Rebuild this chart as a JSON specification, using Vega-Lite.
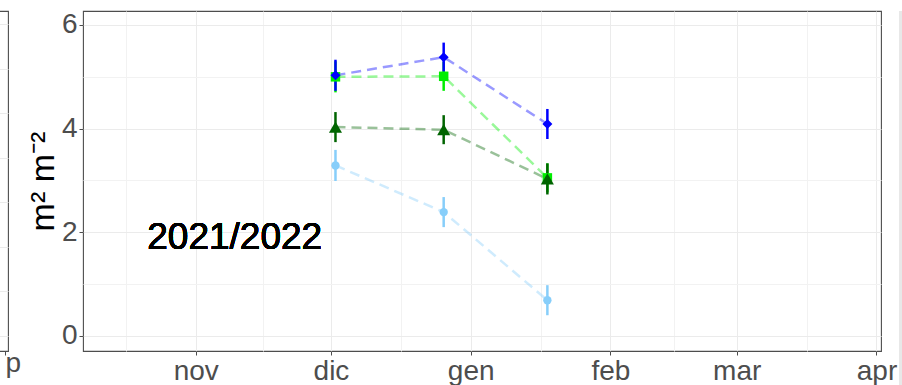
{
  "$schema": "https://vega.github.io/schema/vega-lite/v6.json",
  "background": "white",
  "padding": {"left": -193, "top": 10, "right": 0, "bottom": 0},
  "bounds": "flush",
  "spacing": 75,
  "config": {
    "font": "Liberation Sans",
    "view": {"stroke": "#4D4D4D", "strokeWidth": 1.1},
    "axis": {
      "labelFont": "Liberation Sans",
      "titleFont": "Liberation Sans",
      "labelColor": "#4D4D4D",
      "labelFontSize": 28,
      "tickColor": "#4D4D4D",
      "tickSize": 4,
      "tickWidth": 1,
      "labelPadding": 2,
      "domain": false,
      "gridColor": "#EBEBEB",
      "gridWidth": 1
    }
  },
  "hconcat": [
    {
      "width": 200,
      "height": 340,
      "data": {"values": []},
      "mark": {"type": "point"},
      "encoding": {
        "x": {
          "field": "t",
          "type": "quantitative",
          "scale": {"domain": [0, 200], "nice": false, "zero": false},
          "axis": {"values": [197], "labelExpr": "'p'", "labelAlign": "left", "labelDx": -4, "labelPadding": -6, "grid": false, "title": null}
        },
        "y": {
          "field": "v",
          "type": "quantitative",
          "scale": {"domain": [-0.337, 7.29], "nice": false, "zero": false},
          "axis": {"values": [0, 1, 2, 3, 4, 5, 6, 7], "labels": false, "ticks": false, "title": null, "grid": true}
        }
      }
    },
    {
      "spacing": 18,
      "bounds": "flush",
      "hconcat": [
        {
          "width": 798,
          "height": 340,
          "data": {
            "values": [
              {"serie": "T2", "date": "2021-12-02", "v": 5.00, "lo": 4.70, "hi": 5.30},
              {"serie": "T2", "date": "2021-12-26", "v": 5.01, "lo": 4.73, "hi": 5.29},
              {"serie": "T2", "date": "2022-01-18", "v": 3.05, "lo": 2.77, "hi": 3.33},
              {"serie": "T4", "date": "2021-12-02", "v": 3.29, "lo": 2.99, "hi": 3.59},
              {"serie": "T4", "date": "2021-12-26", "v": 2.39, "lo": 2.10, "hi": 2.68},
              {"serie": "T4", "date": "2022-01-18", "v": 0.69, "lo": 0.40, "hi": 0.98},
              {"serie": "T3", "date": "2021-12-02", "v": 4.03, "lo": 3.74, "hi": 4.32},
              {"serie": "T3", "date": "2021-12-26", "v": 3.98, "lo": 3.70, "hi": 4.26},
              {"serie": "T3", "date": "2022-01-18", "v": 3.03, "lo": 2.73, "hi": 3.33},
              {"serie": "T1", "date": "2021-12-02", "v": 5.03, "lo": 4.73, "hi": 5.33},
              {"serie": "T1", "date": "2021-12-26", "v": 5.38, "lo": 5.10, "hi": 5.66},
              {"serie": "T1", "date": "2022-01-18", "v": 4.09, "lo": 3.80, "hi": 4.38}
            ]
          },
          "resolve": {"axis": {"x": "independent", "y": "independent"}},
          "layer": [
            {
              "data": {"values": []},
              "mark": {"type": "point"},
              "encoding": {
                "x": {
                  "field": "date",
                  "type": "temporal",
                  "scale": {"type": "utc"},
                  "axis": {
                    "orient": "top",
                    "values": [
                      {"year": 2021, "month": 10, "date": 16, "hours": 12, "utc": true},
                      {"year": 2021, "month": 11, "date": 16, "utc": true},
                      {"year": 2021, "month": 12, "date": 16, "hours": 12, "utc": true},
                      {"year": 2022, "month": 1, "date": 16, "hours": 12, "utc": true},
                      {"year": 2022, "month": 2, "date": 15, "utc": true},
                      {"year": 2022, "month": 3, "date": 16, "hours": 12, "utc": true}
                    ],
                    "labels": false, "ticks": false, "title": null,
                    "grid": true, "gridColor": "#F2F2F2"
                  }
                },
                "y": {
                  "field": "v",
                  "type": "quantitative",
                  "axis": {
                    "orient": "right",
                    "values": [1, 3, 5],
                    "labels": false, "ticks": false, "title": null,
                    "grid": true, "gridColor": "#F2F2F2"
                  }
                }
              }
            },
            {
              "encoding": {
                "x": {
                  "field": "date",
                  "type": "temporal",
                  "scale": {
                    "type": "utc",
                    "domain": [
                      {"year": 2021, "month": 10, "date": 7, "utc": true},
                      {"year": 2022, "month": 4, "date": 2, "utc": true}
                    ]
                  },
                  "axis": {
                    "orient": "bottom",
                    "values": [
                      {"year": 2021, "month": 11, "date": 1, "utc": true},
                      {"year": 2021, "month": 12, "date": 1, "utc": true},
                      {"year": 2022, "month": 1, "date": 1, "utc": true},
                      {"year": 2022, "month": 2, "date": 1, "utc": true},
                      {"year": 2022, "month": 3, "date": 1, "utc": true},
                      {"year": 2022, "month": 4, "date": 1, "utc": true}
                    ],
                    "labelExpr": "['gen','feb','mar','apr','mag','giu','lug','ago','set','ott','nov','dic'][utcmonth(datum.value)]",
                    "title": null,
                    "grid": true
                  }
                },
                "y": {
                  "field": "v",
                  "type": "quantitative",
                  "scale": {"domain": [-0.29, 6.27], "nice": false, "zero": false},
                  "axis": {
                    "orient": "left",
                    "values": [0, 2, 4, 6],
                    "title": "m² m⁻²",
                    "titleFontSize": 34,
                    "titleFontWeight": "normal",
                    "titleColor": "black",
                    "titlePadding": 1,
                    "grid": true
                  }
                },
                "color": {
                  "field": "serie",
                  "type": "nominal",
                  "scale": {"domain": ["T1", "T2", "T3", "T4"], "range": ["#0000FF", "#00EE00", "#006400", "#87CEFA"]},
                  "legend": null
                }
              },
              "layer": [
                {
                  "mark": {"type": "line", "strokeDash": [10, 6], "strokeWidth": 2.5, "opacity": 0.4},
                  "encoding": {"detail": {"field": "serie"}}
                },
                {
                  "mark": {"type": "rule", "strokeWidth": 2.5},
                  "encoding": {"y": {"field": "lo", "type": "quantitative"}, "y2": {"field": "hi"}}
                },
                {
                  "mark": {"type": "point", "filled": true, "opacity": 1},
                  "encoding": {
                    "shape": {
                      "field": "serie",
                      "type": "nominal",
                      "scale": {"domain": ["T1", "T2", "T3", "T4"], "range": ["diamond", "square", "triangle-up", "circle"]},
                      "legend": null
                    },
                    "size": {
                      "field": "serie",
                      "type": "nominal",
                      "scale": {"type": "ordinal", "domain": ["T1", "T2", "T3", "T4"], "range": [100, 90, 170, 70]},
                      "legend": null
                    }
                  }
                },
                {
                  "mark": {"type": "text", "align": "left", "baseline": "alphabetic", "fontSize": 37, "font": "Liberation Sans"},
                  "encoding": {
                    "x": {"datum": {"year": 2021, "month": 10, "date": 21, "hours": 6, "utc": true}, "type": "temporal"},
                    "y": {"datum": 1.685, "type": "quantitative"},
                    "text": {"value": "2021/2022"},
                    "color": {"value": "black"}
                  }
                }
              ]
            }
          ]
        },
        {
          "width": 4,
          "height": 375,
          "view": {"fill": "#E8E8E8", "stroke": null},
          "data": {"values": []},
          "mark": {"type": "point"},
          "encoding": {
            "x": {"field": "t", "type": "quantitative", "axis": null},
            "y": {"field": "v", "type": "quantitative", "axis": null}
          }
        }
      ]
    }
  ]
}
